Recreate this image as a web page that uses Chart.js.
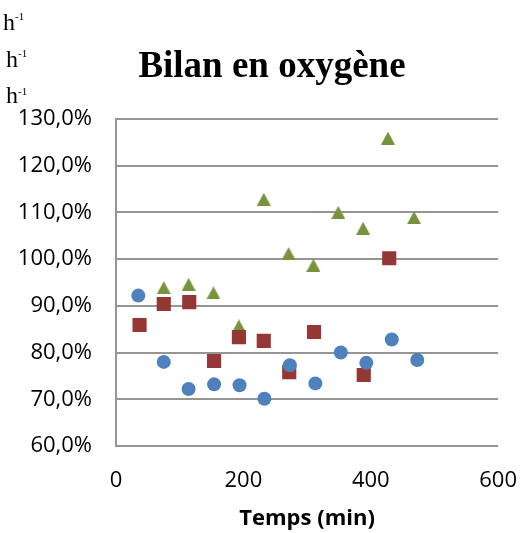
<!DOCTYPE html>
<html>
<head>
<meta charset="utf-8">
<script src="https://cdn.jsdelivr.net/npm/chart.js@4/dist/chart.umd.min.js"></script>
<style>
  body { margin: 0; background: #fff; }
  #wrap { position: relative; width: 531px; height: 533px; }
  #myChart { position: absolute; left: 0; top: 0; }
  #titre { position: absolute; left: 0; top: 46px; width: 544px; text-align: center;
           font-family: "Liberation Serif"; font-weight: bold; font-size: 37px; line-height: 37px; color: #000; }
  .h { position: absolute; font-family: "Liberation Serif"; font-size: 24px; line-height: 24px; color: #000; }
  .e { position: absolute; font-family: "Liberation Serif"; font-size: 11px; line-height: 11px; color: #000; }
</style>
</head>
<body>
<div id="wrap">
  <canvas id="myChart" width="531" height="533" style="width:531px;height:533px"></canvas>
  <div id="titre">Bilan en oxygène</div>
  <span class="h" style="left:3px;top:10px">h</span><span class="e" style="left:15px;top:11px">-1</span>
  <span class="h" style="left:6px;top:47px">h</span><span class="e" style="left:18px;top:48px">-1</span>
  <span class="h" style="left:6px;top:83px">h</span><span class="e" style="left:18px;top:86px">-1</span>
</div>
<script>
// temps (min) et bilan (%)
let timesBleu = [35, 75, 114, 154, 194, 233, 273, 313, 353, 393, 433, 473];
let bleu = [92.2, 78.0, 72.2, 73.2, 73.0, 70.1, 77.3, 73.4, 80.0, 77.8, 82.8, 78.4];

let timesRouge = [37, 75, 115, 154, 193, 232, 272, 311, 389, 429];
let rouge = [85.9, 90.4, 90.8, 78.2, 83.3, 82.5, 75.8, 84.4, 75.2, 100.2];

let timesVert = [75, 114, 153, 193, 232, 271, 310, 349, 388, 427, 468];
let vert = [93.9, 94.6, 92.8, 85.7, 112.8, 101.2, 98.7, 110.0, 106.6, 125.9, 108.9];

let xTicks = [0, 200, 400, 600];
let yTicks = [60, 70, 80, 90, 100, 110, 120, 130];

function points(xs, ys) {
    return xs.map((x, i) => ({ x: x, y: ys[i] }));
}

// triangle centré sur sa boîte, comme dans Excel
function triangle(color, w, h) {
    let c = document.createElement('canvas');
    c.width = w; c.height = h;
    let g = c.getContext('2d');
    g.fillStyle = color;
    g.beginPath();
    g.moveTo(w / 2, 0);
    g.lineTo(w, h);
    g.lineTo(0, h);
    g.closePath();
    g.fill();
    return c;
}

let gridColor = '#959595';
let tickFont = { family: 'Open Sans', size: 22 };

var ctx = document.getElementById('myChart').getContext('2d');
var chart = new Chart(ctx, {
    type: 'scatter',
    data: {
        datasets: [
            { data: points(timesBleu, bleu), pointStyle: 'circle', pointRadius: 7, pointHoverRadius: 7,
              backgroundColor: '#4F81BD', borderColor: '#4F81BD', borderWidth: 0 },
            { data: points(timesRouge, rouge), pointStyle: 'rect', pointRadius: 10, pointHoverRadius: 10,
              backgroundColor: '#953735', borderColor: '#953735', borderWidth: 0 },
            { data: points(timesVert, vert), pointStyle: triangle('#77933C', 14, 13), pointRadius: 7,
              backgroundColor: '#77933C', borderColor: '#77933C', borderWidth: 0 }
        ]
    },
    options: {
        responsive: false,
        animation: false,
        layout: { padding: { left: 0, right: 31, top: 119, bottom: 0 } },
        plugins: {
            legend: { display: false },
            tooltip: { enabled: false },
            title: { display: false }
        },
        scales: {
            x: {
                type: 'linear',
                min: xTicks[0],
                max: xTicks[xTicks.length - 1],
                afterBuildTicks: s => { s.ticks = xTicks.map(v => ({ value: v })); },
                afterFit: s => { s.height = 87; },
                grid: { display: false },
                border: { display: false },
                ticks: { color: '#000', font: tickFont, padding: 14 },
                title: {
                    display: true,
                    text: 'Temps (min)',
                    color: '#000',
                    font: { family: 'Open Sans', size: 22, weight: 'bold' },
                    padding: { top: 0, bottom: 1 }
                }
            },
            y: {
                min: yTicks[0],
                max: yTicks[yTicks.length - 1],
                afterBuildTicks: s => { s.ticks = yTicks.map(v => ({ value: v })); },
                afterFit: s => { s.width = 116; },
                grid: { color: gridColor, lineWidth: 2, drawTicks: false },
                border: { display: true, color: gridColor, width: 2 },
                ticks: {
                    color: '#000',
                    font: tickFont,
                    padding: 24,
                    callback: v => v.toFixed(1).replace('.', ',') + '%'
                }
            }
        }
    }
});
</script>
</body>
</html>
